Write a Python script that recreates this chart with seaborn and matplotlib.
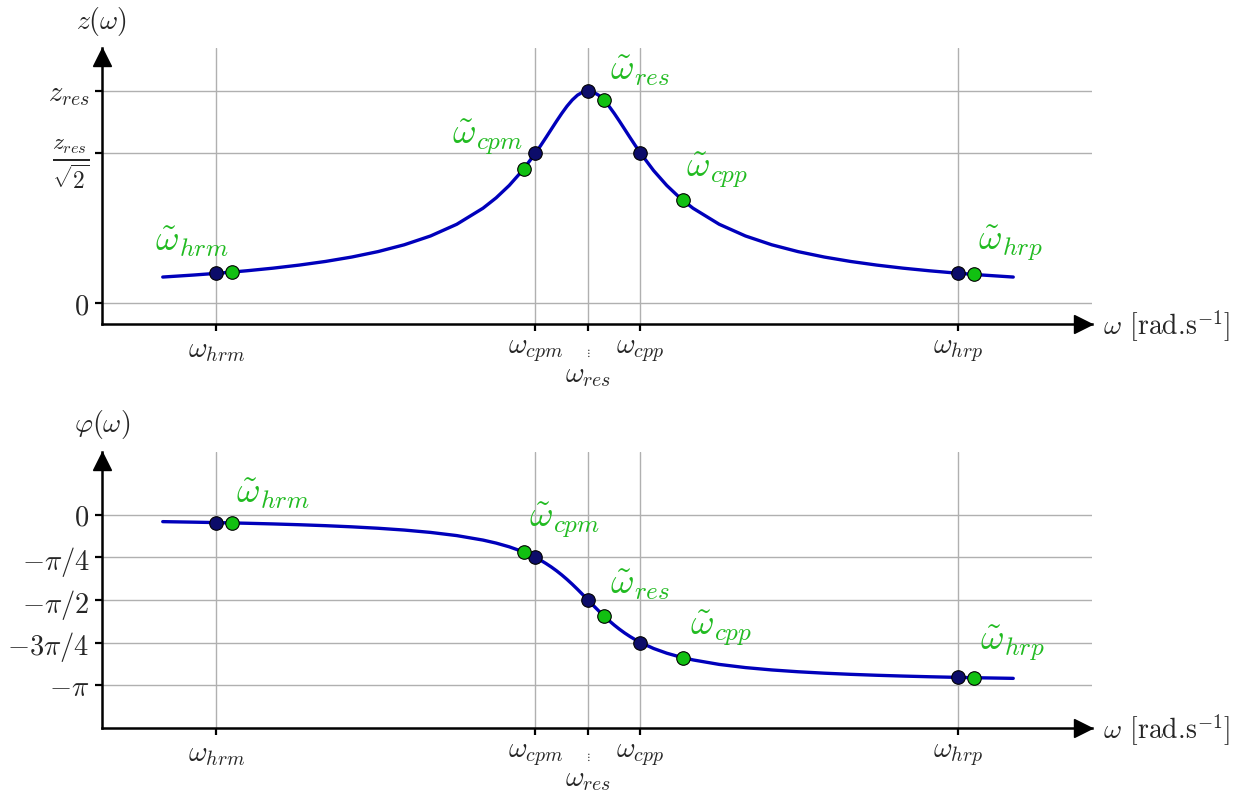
import numpy as np
import pandas as pd
import matplotlib
matplotlib.use('Agg')
import matplotlib.pyplot as plt
import seaborn as sns
from matplotlib.transforms import ScaledTranslation

# courbe de resonance (omega_res = 10)
omega = [1.9, 2.5, 3.0, 3.5, 4.0, 4.5, 5.0, 5.5, 6.0, 6.5, 7.0, 7.5, 8.0, 8.25, 8.5, 8.75,
         9.0, 9.1, 9.2, 9.3, 9.4, 9.5, 9.6, 9.7, 9.8, 9.9, 10.0, 10.1, 10.2, 10.3, 10.4, 10.5,
         10.6, 10.7, 10.8, 10.9, 11.0, 11.25, 11.5, 11.75, 12.0, 12.5, 13.0, 13.5, 14.0, 14.5,
         15.0, 15.5, 16.0, 16.5, 17.0, 17.5, 18.1]
z = [0.1225, 0.1322, 0.1414, 0.1521, 0.1644, 0.1789, 0.1961, 0.2169, 0.2425, 0.2747, 0.3162,
     0.3714, 0.4472, 0.4961, 0.5547, 0.6247, 0.7071, 0.7433, 0.7809, 0.8192, 0.8575, 0.8944,
     0.9285, 0.9578, 0.9806, 0.9950, 1.0,
     0.9950, 0.9806, 0.9578, 0.9285, 0.8944, 0.8575, 0.8192, 0.7809, 0.7433, 0.7071, 0.6247,
     0.5547, 0.4961, 0.4472, 0.3714, 0.3162, 0.2747, 0.2425, 0.2169, 0.1961, 0.1789, 0.1644,
     0.1521, 0.1414, 0.1322, 0.1225]
phi = [-0.1228, -0.1326, -0.1419, -0.1527, -0.1651, -0.1799, -0.1974, -0.2187, -0.2450, -0.2783,
       -0.3218, -0.3805, -0.4636, -0.5191, -0.5880, -0.6747, -0.7854, -0.8380, -0.8961, -0.9601,
       -1.0304, -1.1072, -1.1903, -1.2793, -1.3734, -1.4711, -1.5708,
       -1.6705, -1.7682, -1.8623, -1.9513, -2.0344, -2.1112, -2.1815, -2.2455, -2.3036, -2.3562,
       -2.4669, -2.5536, -2.6224, -2.6779, -2.7611, -2.8198, -2.8633, -2.8966, -2.9229, -2.9442,
       -2.9617, -2.9764, -2.9889, -2.9997, -3.0090, -3.0188]

names = ['hrm', 'cpm', 'res', 'cpp', 'hrp']
omega_pts = [2.92, 9.0, 10.0, 11.0, 17.05]
z_pts = [0.1398, 0.7071, 1.0, 0.7071, 0.1404]
phi_pts = [-0.1403, -0.7854, -1.5708, -2.3562, -3.0007]

omega_tilde = [3.22, 8.78, 10.3, 11.81, 17.35]
z_tilde = [0.1459, 0.6339, 0.9578, 0.4836, 0.1348]
phi_tilde = [-0.1464, -0.6868, -1.8623, -2.6367, -3.0064]

z_ticks = [0, 0.7071, 1.0]
z_ticklabels = ['$0$', r'$\frac{z_{res}}{\sqrt{2}}$', '$z_{res}$']
phi_ticks = [0, -np.pi / 4, -np.pi / 2, -3 * np.pi / 4, -np.pi]
phi_ticklabels = ['$0$', r'$-\pi/4$', r'$-\pi/2$', r'$-3\pi/4$', r'$-\pi$']
# omega_res est ecrit plus bas, a part
x_ticklabels = [r'$\omega_{hrm}$', r'$\omega_{cpm}$', '', r'$\omega_{cpp}$', r'$\omega_{hrp}$']

# decalage des etiquettes vertes (pixels)
off_top = [(-77, 13), (-72, 12), (6, 12), (3, 10), (4, 11)]
off_bot = [(4, 12), (5, 12), (6, 14), (7, 10), (6, 15)]

sns.set_style('ticks')
plt.rcParams['mathtext.fontset'] = 'cm'
plt.rcParams['font.family'] = ['DejaVu Sans']

df = pd.DataFrame({'omega': omega, 'z': z, 'phi': phi})
pts = pd.DataFrame({'omega': omega_pts, 'z': z_pts, 'phi': phi_pts})
tld = pd.DataFrame({'omega': omega_tilde, 'z': z_tilde, 'phi': phi_tilde})

BLUE = '#0000bb'
NAVY = '#0c0c6a'
GREEN = '#11c011'
TXT_GREEN = '#22bb22'

fig = plt.figure(figsize=(12.39, 7.94), dpi=100)
ax1 = fig.add_axes([102 / 1239, 1 - 324 / 794, 990 / 1239, 276 / 794])
ax2 = fig.add_axes([102 / 1239, 1 - 728 / 794, 990 / 1239, 276 / 794])

setups = [(ax1, 'z', z_ticks, z_ticklabels, (-0.099, 1.203), off_top, r'$z(\omega)$'),
          (ax2, 'phi', phi_ticks, phi_ticklabels, (-3.936, 1.164), off_bot, r'$\varphi(\omega)$')]

for ax, col, yt, ytl, ylim, offs, ylab in setups:
    sns.lineplot(data=df, x='omega', y=col, ax=ax, color=BLUE, lw=2.4, sort=False,
                 estimator=None, zorder=3)
    sns.scatterplot(data=pts, x='omega', y=col, ax=ax, color=NAVY, s=95,
                    edgecolor='black', linewidth=0.8, zorder=4)
    sns.scatterplot(data=tld, x='omega', y=col, ax=ax, color=GREEN, s=95,
                    edgecolor='black', linewidth=0.8, zorder=5)
    for i, n in enumerate(names):
        ax.annotate(r'$\tilde{\omega}_{%s}$' % n, (omega_tilde[i], tld[col][i]),
                    xytext=offs[i], textcoords='offset pixels', ha='left', va='bottom',
                    fontsize=26, color=TXT_GREEN)

    ax.set_xlim(0.743, 19.6)
    ax.set_ylim(*ylim)
    ax.set_xticks(omega_pts)
    ax.set_xticklabels(x_ticklabels, fontsize=20.5)
    ax.set_yticks(yt)
    ax.set_yticklabels(ytl, fontsize=20.5)
    ax.set_xlabel('')
    ax.set_ylabel('')
    ax.grid(True, color='#b0b0b0', lw=1)
    ax.tick_params(direction='out', length=5, width=1.6, color='black', pad=4)
    for s in ['top', 'right']:
        ax.spines[s].set_visible(False)
    for s in ['left', 'bottom']:
        ax.spines[s].set_linewidth(1.8)
        ax.spines[s].set_color('black')

    # petits points puis omega_res sous le tick central
    ax.annotate(r'$\vdots$', (omega_pts[2], 0), xycoords=('data', 'axes fraction'),
                xytext=(0, -29), textcoords='offset pixels', ha='center', va='center',
                fontsize=8)
    ax.annotate(r'$\omega_{res}$', (omega_pts[2], 0), xycoords=('data', 'axes fraction'),
                xytext=(0, -51), textcoords='offset pixels', ha='center', va='center',
                fontsize=20.5)

    # fleches des axes
    tr_x = ax.transAxes + ScaledTranslation(-9 / 100, 0, fig.dpi_scale_trans)
    ax.plot(1, 0, '>', color='black', ms=13, transform=tr_x, clip_on=False, zorder=6)
    tr_y = ax.transAxes + ScaledTranslation(0, -9 / 100, fig.dpi_scale_trans)
    ax.plot(0, 1, '^', color='black', ms=13, transform=tr_y, clip_on=False, zorder=6)

    ax.annotate(ylab, (0, 1), xycoords='axes fraction', xytext=(0, 27),
                textcoords='offset pixels', ha='center', va='center', fontsize=20)
    ax.annotate(r'$\omega$ [rad.s$^{-1}$]', (1, 0), xycoords='axes fraction',
                xytext=(11, -2), textcoords='offset pixels', ha='left', va='center',
                fontsize=20, family='cmr10')

# fraction z_res / sqrt(2) un peu plus grande
ax1.get_yticklabels()[1].set_fontsize(24)

fig.savefig('out.png', dpi=100)
